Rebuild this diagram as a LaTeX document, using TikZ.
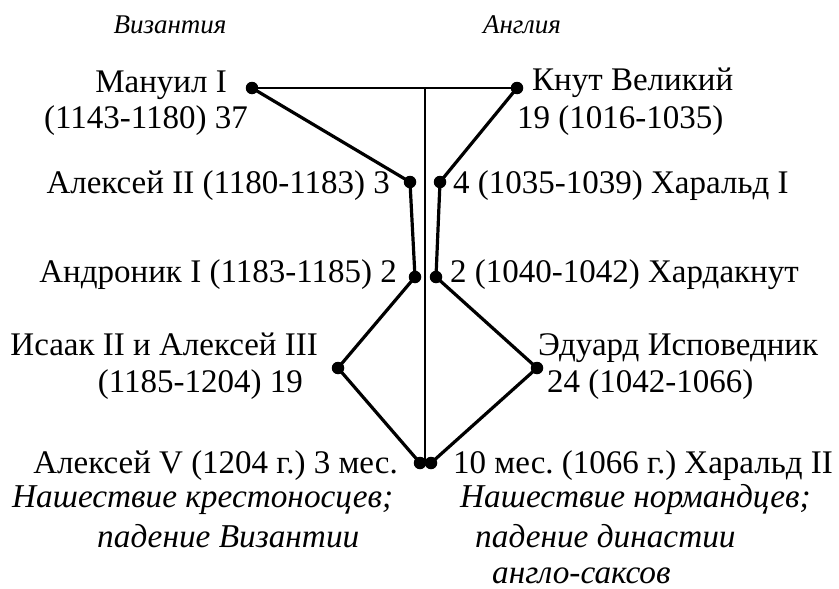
\documentclass[tikz,border=0pt]{standalone}
\usepackage{fontspec}
\setmainfont{Liberation Serif}
\frenchspacing
\begin{document}
\begin{tikzpicture}[x=1pt,y=-1pt,
  dot/.style={circle,fill=black,inner sep=0pt,minimum size=12.5pt},
  thick line/.style={line width=3.2pt},
  thin line/.style={line width=1.6pt},
  txt/.style={inner sep=0pt,font=\fontsize{33}{38}\selectfont\frenchspacing},
  itxt/.style={inner sep=0pt,font=\fontsize{33.3}{38}\selectfont\itshape\frenchspacing},
  htxt/.style={inner sep=0pt,font=\fontsize{27}{32}\selectfont\itshape}]
\useasboundingbox (0,0) rectangle (839,589);
% dots
\node[dot] (man) at (252,88) {};
\node[dot] (knut) at (517,88) {};
\node[dot] (alx2) at (410,182) {};
\node[dot] (har1) at (440,182) {};
\node[dot] (andr) at (415,277) {};
\node[dot] (hard) at (436,277) {};
\node[dot] (isaak) at (338,368) {};
\node[dot] (edw) at (537,368) {};
\node[dot] (alx5) at (420,463) {};
\node[dot] (har2) at (431,463) {};
\coordinate (ctop) at (425,88);
\coordinate (cbot) at (425,463);
% thin lines
\draw[thin line] (man.center) -- (knut.center);
\draw[thin line] (ctop) -- (cbot);
% thick connectors
\draw[thick line] (man.center) -- (alx2.center) -- (andr.center) -- (isaak.center) -- (alx5.center);
\draw[thick line] (knut.center) -- (har1.center) -- (hard.center) -- (edw.center) -- (har2.center);
% headers
\node[htxt,anchor=base] (hbyz) at (170,33) {Византия};
\node[htxt,anchor=base] (heng) at (522,33) {Англия};
% left texts
\node[txt,anchor=base east] (t1) at (227,92) {Мануил I};
\node[txt,anchor=base east] (t2) at (248,128) {(1143-1180) 37};
\node[txt,anchor=base east] (t3) at (390,193) {Алексей II (1180-1183) 3};
\node[txt,anchor=base east] (t4) at (397,282) {Андроник I (1183-1185) 2};
\node[txt,anchor=base east] (t5) at (318,355) {Исаак II и Алексей III};
\node[txt,anchor=base east] (t6) at (303,392) {(1185-1204) 19};
\node[txt,anchor=base east] (t7) at (398,473) {Алексей V (1204 г.) 3 мес.};
\node[itxt,anchor=base west] (t8) at (12,507) {Нашествие крестоносцев;};
\node[itxt,anchor=base west] (t9) at (97,547) {падение Византии};
% right texts
\node[txt,anchor=base west] (r1) at (532,90) {Кнут Великий};
\node[txt,anchor=base west] (r2) at (517,128) {19 (1016-1035)};
\node[txt,anchor=base west] (r3) at (453,193) {4 (1035-1039) Харальд I};
\node[txt,anchor=base west] (r4) at (450,282) {2 (1040-1042) Хардакнут};
\node[txt,anchor=base west] (r5) at (538,355) {Эдуард Исповедник};
\node[txt,anchor=base west] (r6) at (547,392) {24 (1042-1066)};
\node[txt,anchor=base west] (r7) at (453,473) {10 мес. (1066 г.) Харальд II};
\node[itxt,anchor=base west] (r8) at (460,507) {Нашествие нормандцев;};
\node[itxt,anchor=base west] (r9) at (475,547) {падение династии};
\node[itxt,anchor=base west] (r10) at (492,583) {англо-саксов};
\end{tikzpicture}
\end{document}
